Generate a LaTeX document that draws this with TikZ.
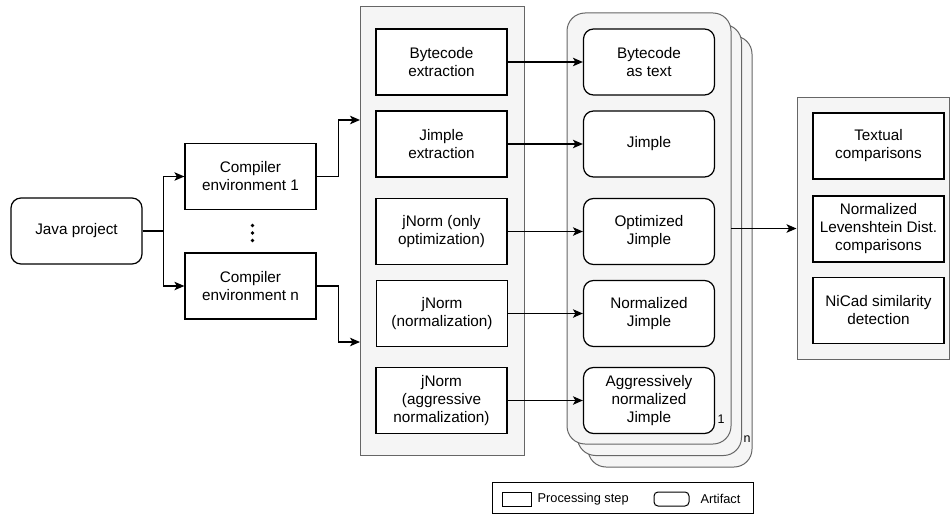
\documentclass[tikz,border=0pt]{standalone}
\usepackage{fontspec}
\setmainfont{Liberation Sans}
\usetikzlibrary{arrows.meta}
\definecolor{panelfill}{HTML}{F5F5F5}
\definecolor{paneldraw}{HTML}{666666}
\begin{document}
\begin{tikzpicture}[x=1pt, y=-1pt, line width=1.2pt,
  every node/.style={font=\fontsize{15.3}{18}\selectfont, align=center, inner sep=0pt},
  stepbox/.style={draw, fill=white, minimum width=131pt, minimum height=66pt},
  artbox/.style={stepbox, rounded corners=10pt},
  panel/.style={draw=paneldraw, fill=panelfill, line width=1pt},
  conn/.style={-{Stealth[length=10pt, width=8.5pt, inset=2.5pt]}}]
\useasboundingbox (0,0) rectangle (950,516);
% input and compilers
\node[artbox] (java) at (76.5,231) {Java project};
\node[stepbox] (ce1) at (250.5,176.5) {Compiler\\environment 1};
\node[stepbox] (cen) at (250.5,286) {Compiler\\environment n};
\foreach \y in {225.5,233,240.5}
  \fill (252.5,\y) circle (1.9pt);
\draw[conn] (java.east) -- ++(21,0) |- (ce1.west);
\draw[conn] (java.east) -- ++(21,0) |- (cen.west);
% processing steps
\draw[panel] (360,7) rectangle (524,455);
\coordinate (stepsin1) at (360,120);
\coordinate (stepsin2) at (360,342);
\draw[conn] (ce1.east) -- ++(22,0) |- (stepsin1);
\draw[conn] (cen.east) -- ++(22,0) |- (stepsin2);
\node[stepbox] (bcx) at (441.5,62) {Bytecode\\extraction};
\node[stepbox] (jmx) at (441.5,144) {Jimple\\extraction};
\node[stepbox] (jopt) at (441.5,231.5) {jNorm (only\\optimization)};
\node[stepbox] (jnorm) at (442,313.5) {jNorm\\(normalization)};
\node[stepbox] (jaggr) at (441.5,400.5) {jNorm\\(aggressive\\normalization)};
% artifact stack
\foreach \s in {2,1,0}
  \draw[panel, rounded corners=18pt] (567+10.5*\s,13+11.5*\s) rectangle (731+10.5*\s,444+11.5*\s);
\node[font=\fontsize{12.5}{12.5}\selectfont] (one) at (721,419) {1};
\node[font=\fontsize{12.5}{12.5}\selectfont] (enn) at (747,439) {n};
\node[artbox] (bct) at (649,62) {Bytecode\\as text};
\node[artbox] (jm) at (649,144) {Jimple};
\node[artbox] (ojm) at (649,231.5) {Optimized\\Jimple};
\node[artbox] (njm) at (649,313.5) {Normalized\\Jimple};
\node[artbox] (ajm) at (649,400.5) {Aggressively\\normalized\\Jimple};
\draw[conn] (bcx) -- (bct);
\draw[conn] (jmx) -- (jm);
\draw[conn] (jopt) -- (ojm);
\draw[conn] (jnorm) -- (njm);
\draw[conn] (jaggr) -- (ajm);
% comparisons
\node[panel, minimum width=152pt, minimum height=261pt] (checks) at (873,228.5) {};
\coordinate (stackout) at (731,228.5);
\draw[conn] (stackout) -- (checks.west);
\node[stepbox] (txt) at (878.5,146) {Textual\\comparisons};
\node[stepbox] (lev) at (878.5,229) {Normalized\\Levenshtein Dist.\\comparisons};
\node[stepbox] (nicad) at (878.5,310.5) {NiCad similarity\\detection};
% legend
\node[draw, line width=1pt, minimum width=261pt, minimum height=31pt] (legend) at (622.5,497.5) {};
\node[draw, line width=1pt, minimum width=29pt, minimum height=14pt] (lstep) at (516.5,499) {};
\node[anchor=west, font=\fontsize{12.8}{15}\selectfont] (lsteptxt) at (537,499) {Processing step};
\node[draw, line width=1pt, rounded corners=4pt, minimum width=35pt, minimum height=14pt] (lart) at (671.5,499) {};
\node[anchor=west, font=\fontsize{12.8}{15}\selectfont] (larttxt) at (700,499) {Artifact};
\end{tikzpicture}
\end{document}
